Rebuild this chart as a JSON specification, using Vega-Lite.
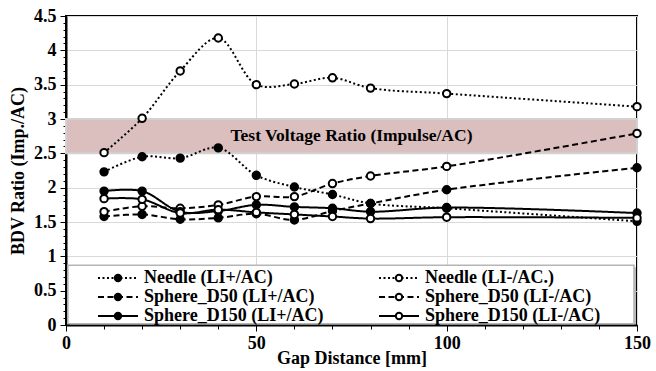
{
  "$schema": "https://vega.github.io/schema/vega-lite/v6.json",
  "width": 571,
  "height": 309,
  "autosize": {"type": "none"},
  "padding": {"left": 66, "top": 16, "right": 19, "bottom": 46},
  "background": "white",
  "config": {
    "view": {"stroke": "black", "strokeWidth": 2},
    "font": "Liberation Serif"
  },
  "datasets": {
    "band": [{"lo": 2.5, "hi": 3.0, "label": "Test Voltage Ratio (Impulse/AC)"}],
    "pts": [
      {"s": "Needle (LI+/AC)", "k": "Needle (LI+/AC)", "x": 10, "y": 2.23},
      {"s": "Needle (LI+/AC)", "k": "Needle (LI+/AC)", "x": 20, "y": 2.45},
      {"s": "Needle (LI+/AC)", "k": "Needle (LI+/AC)", "x": 30, "y": 2.43},
      {"s": "Needle (LI+/AC)", "k": "Needle (LI+/AC)", "x": 40, "y": 2.58},
      {"s": "Needle (LI+/AC)", "k": "Needle (LI+/AC)", "x": 50, "y": 2.18},
      {"s": "Needle (LI+/AC)", "k": "Needle (LI+/AC)", "x": 60, "y": 2.01},
      {"s": "Needle (LI+/AC)", "k": "Needle (LI+/AC)", "x": 70, "y": 1.90},
      {"s": "Needle (LI+/AC)", "k": "Needle (LI+/AC)", "x": 80, "y": 1.77},
      {"s": "Needle (LI+/AC)", "k": "Needle (LI+/AC)", "x": 100, "y": 1.70},
      {"s": "Needle (LI+/AC)", "k": "Needle (LI+/AC)", "x": 150, "y": 1.51},
      {"s": "Needle (LI-/AC.)", "k": "Needle (LI-/AC.)", "x": 10, "y": 2.51},
      {"s": "Needle (LI-/AC.)", "k": "Needle (LI-/AC.)", "x": 20, "y": 3.01},
      {"s": "Needle (LI-/AC.)", "k": "Needle (LI-/AC.)", "x": 30, "y": 3.70},
      {"s": "Needle (LI-/AC.)", "k": "Needle (LI-/AC.)", "x": 40, "y": 4.18},
      {"s": "Needle (LI-/AC.)", "k": "Needle (LI-/AC.)", "x": 50, "y": 3.50},
      {"s": "Needle (LI-/AC.)", "k": "Needle (LI-/AC.)", "x": 60, "y": 3.51},
      {"s": "Needle (LI-/AC.)", "k": "Needle (LI-/AC.)", "x": 70, "y": 3.60},
      {"s": "Needle (LI-/AC.)", "k": "Needle (LI-/AC.)", "x": 80, "y": 3.45},
      {"s": "Needle (LI-/AC.)", "k": "Needle (LI-/AC.)", "x": 100, "y": 3.37},
      {"s": "Needle (LI-/AC.)", "k": "Needle (LI-/AC.)", "x": 150, "y": 3.18},
      {"s": "Sphere_D50 (LI+/AC)", "k": "Sphere_D50 (LI+/AC)", "x": 10, "y": 1.58},
      {"s": "Sphere_D50 (LI+/AC)", "k": "Sphere_D50 (LI+/AC)", "x": 20, "y": 1.61},
      {"s": "Sphere_D50 (LI+/AC)", "k": "Sphere_D50 (LI+/AC)", "x": 30, "y": 1.54},
      {"s": "Sphere_D50 (LI+/AC)", "k": "Sphere_D50 (LI+/AC)", "x": 40, "y": 1.56},
      {"s": "Sphere_D50 (LI+/AC)", "k": "Sphere_D50 (LI+/AC)", "x": 50, "y": 1.62},
      {"s": "Sphere_D50 (LI+/AC)", "k": "Sphere_D50 (LI+/AC)", "x": 60, "y": 1.53},
      {"s": "Sphere_D50 (LI+/AC)", "k": "Sphere_D50 (LI+/AC)", "x": 70, "y": 1.66},
      {"s": "Sphere_D50 (LI+/AC)", "k": "Sphere_D50 (LI+/AC)", "x": 80, "y": 1.77},
      {"s": "Sphere_D50 (LI+/AC)", "k": "Sphere_D50 (LI+/AC)", "x": 100, "y": 1.97},
      {"s": "Sphere_D50 (LI+/AC)", "k": "Sphere_D50 (LI+/AC)", "x": 150, "y": 2.29},
      {"s": "Sphere_D50 (LI-/AC)", "k": "Sphere_D50 (LI-/AC)", "x": 10, "y": 1.65},
      {"s": "Sphere_D50 (LI-/AC)", "k": "Sphere_D50 (LI-/AC)", "x": 20, "y": 1.73},
      {"s": "Sphere_D50 (LI-/AC)", "k": "Sphere_D50 (LI-/AC)", "x": 30, "y": 1.70},
      {"s": "Sphere_D50 (LI-/AC)", "k": "Sphere_D50 (LI-/AC)", "x": 40, "y": 1.75},
      {"s": "Sphere_D50 (LI-/AC)", "k": "Sphere_D50 (LI-/AC)", "x": 50, "y": 1.87},
      {"s": "Sphere_D50 (LI-/AC)", "k": "Sphere_D50 (LI-/AC)", "x": 60, "y": 1.87},
      {"s": "Sphere_D50 (LI-/AC)", "k": "Sphere_D50 (LI-/AC)", "x": 70, "y": 2.06},
      {"s": "Sphere_D50 (LI-/AC)", "k": "Sphere_D50 (LI-/AC)", "x": 80, "y": 2.17},
      {"s": "Sphere_D50 (LI-/AC)", "k": "Sphere_D50 (LI-/AC)", "x": 100, "y": 2.31},
      {"s": "Sphere_D50 (LI-/AC)", "k": "Sphere_D50 (LI-/AC)", "x": 150, "y": 2.79},
      {"s": "Sphere_D150 (LI+/AC)", "k": "Sphere_D150 (LI+/AC)", "x": 10, "y": 1.95},
      {"s": "Sphere_D150 (LI+/AC)", "k": "Sphere_D150 (LI+/AC)", "x": 20, "y": 1.95},
      {"s": "Sphere_D150 (LI+/AC)", "k": "Sphere_D150 (LI+/AC)", "x": 30, "y": 1.65},
      {"s": "Sphere_D150 (LI+/AC)", "k": "Sphere_D150 (LI+/AC)", "x": 40, "y": 1.66},
      {"s": "Sphere_D150 (LI+/AC)", "k": "Sphere_D150 (LI+/AC)", "x": 50, "y": 1.75},
      {"s": "Sphere_D150 (LI+/AC)", "k": "Sphere_D150 (LI+/AC)", "x": 60, "y": 1.72},
      {"s": "Sphere_D150 (LI+/AC)", "k": "Sphere_D150 (LI+/AC)", "x": 70, "y": 1.70},
      {"s": "Sphere_D150 (LI+/AC)", "k": "Sphere_D150 (LI+/AC)", "x": 80, "y": 1.65},
      {"s": "Sphere_D150 (LI+/AC)", "k": "Sphere_D150 (LI+/AC)", "x": 100, "y": 1.71},
      {"s": "Sphere_D150 (LI+/AC)", "k": "Sphere_D150 (LI+/AC)", "x": 150, "y": 1.63},
      {"s": "Sphere_D150 (LI-/AC)", "k": "Sphere_D150 (LI-/AC)", "x": 10, "y": 1.84},
      {"s": "Sphere_D150 (LI-/AC)", "k": "Sphere_D150 (LI-/AC)", "x": 20, "y": 1.83},
      {"s": "Sphere_D150 (LI-/AC)", "k": "Sphere_D150 (LI-/AC)", "x": 30, "y": 1.63},
      {"s": "Sphere_D150 (LI-/AC)", "k": "Sphere_D150 (LI-/AC)", "x": 40, "y": 1.68},
      {"s": "Sphere_D150 (LI-/AC)", "k": "Sphere_D150 (LI-/AC)", "x": 50, "y": 1.64},
      {"s": "Sphere_D150 (LI-/AC)", "k": "Sphere_D150 (LI-/AC)", "x": 60, "y": 1.61},
      {"s": "Sphere_D150 (LI-/AC)", "k": "Sphere_D150 (LI-/AC)", "x": 70, "y": 1.58},
      {"s": "Sphere_D150 (LI-/AC)", "k": "Sphere_D150 (LI-/AC)", "x": 80, "y": 1.55},
      {"s": "Sphere_D150 (LI-/AC)", "k": "Sphere_D150 (LI-/AC)", "x": 100, "y": 1.57},
      {"s": "Sphere_D150 (LI-/AC)", "k": "Sphere_D150 (LI-/AC)", "x": 150, "y": 1.56}
    ]
  },
  "resolve": {"axis": {"x": "independent", "y": "independent"}},
  "layer": [
    {
      "data": {"name": "band"},
      "mark": {"type": "rect", "fill": "#dbbfbf", "stroke": "#d2d2d2", "strokeWidth": 2},
      "encoding": {
        "y": {"field": "lo", "type": "quantitative", "axis": null},
        "y2": {"field": "hi"}
      }
    },
    {
      "data": {"name": "band"},
      "mark": {"type": "text", "font": "Liberation Serif", "fontSize": 17.5, "fontWeight": "bold", "color": "black", "align": "center", "baseline": "middle"},
      "encoding": {
        "x": {"datum": 75, "type": "quantitative", "axis": null},
        "y": {"datum": 2.75, "type": "quantitative", "axis": null},
        "text": {"field": "label"}
      }
    },
    {
      "data": {"name": "band"},
      "mark": {"type": "rect", "fill": "#8c8c8c", "opacity": 0.6},
      "encoding": {
        "x": {"datum": 1.0, "type": "quantitative", "axis": null},
        "x2": {"datum": 149.75},
        "y": {"datum": 0, "type": "quantitative", "axis": null},
        "y2": {"datum": 0.84}
      }
    },
    {
      "data": {"name": "band"},
      "mark": {"type": "rect", "fill": "white", "stroke": "#b5b5b5", "strokeWidth": 1.5},
      "encoding": {
        "x": {"datum": 0.5, "type": "quantitative", "axis": null},
        "x2": {"datum": 149.2},
        "y": {"datum": 0.02, "type": "quantitative", "axis": null},
        "y2": {"datum": 0.87}
      }
    },
    {
      "data": {"name": "pts"},
      "mark": {"type": "line", "interpolate": "catmull-rom", "color": "black", "strokeWidth": 2},
      "encoding": {
        "x": {
          "field": "x", "type": "quantitative",
          "scale": {"domain": [0, 150], "nice": false},
          "axis": {
            "orient": "bottom",
            "values": [0, 50, 100, 150],
            "grid": true, "gridColor": "#d9d9d9", "gridWidth": 1,
            "tickSize": 6, "tickColor": "black", "tickWidth": 1,
            "domainColor": "black", "domainWidth": 2,
            "labelFont": "Liberation Serif", "labelFontSize": 18, "labelFontWeight": "bold", "labelColor": "black",
            "labelPadding": 3, "labelFlush": false, "labelOverlap": false,
            "title": "Gap Distance [mm]",
            "titleFont": "Liberation Serif", "titleFontSize": 18, "titleFontWeight": "bold", "titleColor": "black",
            "titlePadding": -3
          }
        },
        "y": {
          "field": "y", "type": "quantitative",
          "scale": {"domain": [0, 4.5], "nice": false},
          "axis": {
            "orient": "left",
            "values": [0, 0.5, 1, 1.5, 2, 2.5, 3, 3.5, 4, 4.5],
            "format": "~g",
            "grid": true, "gridColor": "#d9d9d9", "gridWidth": 1,
            "tickSize": 6, "tickColor": "black", "tickWidth": 1,
            "domainColor": "black", "domainWidth": 2,
            "labelFont": "Liberation Serif", "labelFontSize": 18, "labelFontWeight": "bold", "labelColor": "black",
            "labelPadding": 4, "labelFlush": false, "labelOverlap": false,
            "title": "BDV Ratio (Imp./AC)",
            "titleFont": "Liberation Serif", "titleFontSize": 18, "titleFontWeight": "bold", "titleColor": "black",
            "titlePadding": 6
          }
        },
        "strokeDash": {
          "field": "s", "type": "nominal",
          "scale": {
            "domain": ["Needle (LI+/AC)", "Sphere_D50 (LI+/AC)", "Sphere_D150 (LI+/AC)", "Needle (LI-/AC.)", "Sphere_D50 (LI-/AC)", "Sphere_D150 (LI-/AC)"],
            "range": [[2, 2.5], [6, 3.5], [1, 0], [2, 2.5], [6, 3.5], [1, 0]]
          },
          "legend": {
            "orient": "none", "legendX": 31, "legendY": 253, "columns": 2, "title": null,
            "symbolType": "stroke", "symbolSize": 1600, "symbolStrokeWidth": 2, "symbolStrokeColor": "black",
            "clipHeight": 18, "rowPadding": 1, "columnPadding": 54, "labelOffset": 5,
            "labelFont": "Liberation Serif", "labelFontSize": 18, "labelFontWeight": "bold", "labelColor": "black",
            "labelLimit": 400, "padding": 0, "zindex": 1
          }
        }
      }
    },
    {
      "data": {"name": "pts"},
      "mark": {"type": "point", "shape": "circle", "filled": true, "size": 55, "stroke": "black", "strokeWidth": 2, "opacity": 1},
      "encoding": {
        "x": {
          "field": "x", "type": "quantitative",
          "axis": {
            "orient": "bottom",
            "values": [0, 10, 20, 30, 40, 50, 60, 70, 80, 90, 100, 110, 120, 130, 140, 150],
            "grid": false, "labels": false, "domain": false,
            "tickSize": 4, "tickColor": "black", "tickWidth": 1, "title": null
          }
        },
        "y": {
          "field": "y", "type": "quantitative",
          "axis": {
            "orient": "left",
            "values": [0, 0.1, 0.2, 0.3, 0.4, 0.5, 0.6, 0.7, 0.8, 0.9, 1, 1.1, 1.2, 1.3, 1.4, 1.5, 1.6, 1.7, 1.8, 1.9, 2, 2.1, 2.2, 2.3, 2.4, 2.5, 2.6, 2.7, 2.8, 2.9, 3, 3.1, 3.2, 3.3, 3.4, 3.5, 3.6, 3.7, 3.8, 3.9, 4, 4.1, 4.2, 4.3, 4.4, 4.5],
            "grid": false, "labels": false, "domain": false,
            "tickSize": 3, "tickColor": "black", "tickWidth": 1, "title": null
          }
        },
        "fill": {
          "field": "k", "type": "nominal",
          "sort": ["Needle (LI+/AC)", "Sphere_D50 (LI+/AC)", "Sphere_D150 (LI+/AC)", "Needle (LI-/AC.)", "Sphere_D50 (LI-/AC)", "Sphere_D150 (LI-/AC)"],
          "scale": {"range": ["black", "black", "black", "white", "white", "white"]},
          "legend": {
            "orient": "none", "legendX": 31, "legendY": 253, "columns": 2, "title": null,
            "symbolType": "M0.16,0A0.16,0.16 0 1,1 -0.16,0A0.16,0.16 0 1,1 0.16,0Z",
            "symbolSize": 1600, "symbolStrokeWidth": 2, "symbolStrokeColor": "black",
            "clipHeight": 18, "rowPadding": 1, "columnPadding": 54, "labelOffset": 5,
            "labelFont": "Liberation Serif", "labelFontSize": 18, "labelFontWeight": "bold", "labelColor": "transparent",
            "labelLimit": 400, "padding": 0, "zindex": 2
          }
        }
      }
    }
  ]
}
